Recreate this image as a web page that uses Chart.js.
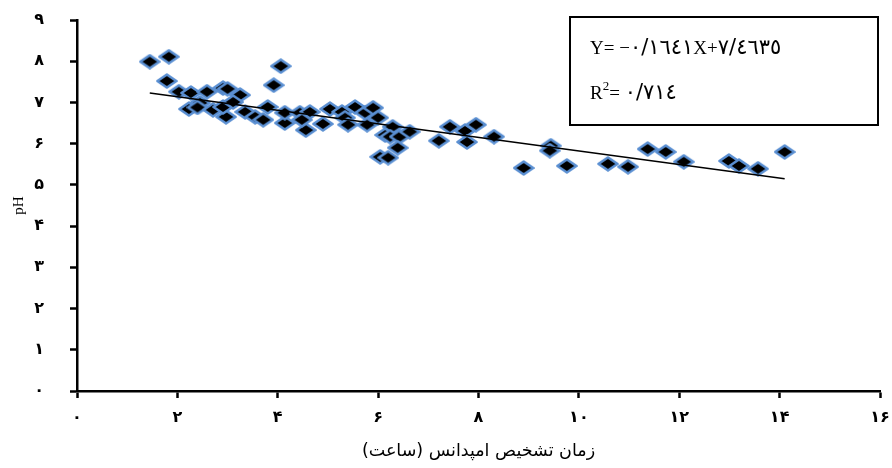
<!DOCTYPE html>
<html><head><meta charset="utf-8">
<script src="https://cdn.jsdelivr.net/npm/chart.js@4/dist/chart.umd.min.js"></script>
<style>html,body{margin:0;padding:0;background:#fff}</style>
</head><body>
<canvas id="c" width="892" height="468"></canvas>
<script>
// --- data ---
const timeHours = [1.45,1.83,1.79,2.03,2.27,2.23,2.45,2.59,2.40,2.71,2.91,3.00,2.97,2.91,3.25,3.11,3.35,3.55,3.80,3.71,3.92,4.06,4.14,4.14,4.44,4.64,4.56,4.48,4.90,5.04,5.28,5.34,5.40,5.54,5.74,5.78,5.90,6.00,6.29,6.14,6.24,6.43,6.63,6.39,6.04,6.20,7.21,7.43,7.73,7.77,7.95,8.31,8.90,9.44,9.42,9.76,10.58,10.98,11.37,11.73,12.09,12.99,13.19,13.57,14.10];
const phValues  = [7.99,8.11,7.52,7.26,7.23,6.84,6.99,7.26,6.88,6.82,7.35,7.33,6.65,6.89,7.18,7.01,6.77,6.65,6.89,6.58,7.42,7.88,6.50,6.75,6.75,6.77,6.33,6.58,6.48,6.84,6.77,6.63,6.46,6.89,6.75,6.46,6.87,6.63,6.41,6.21,6.17,6.17,6.29,5.90,5.68,5.66,6.07,6.41,6.31,6.04,6.46,6.17,5.41,5.95,5.83,5.46,5.51,5.44,5.87,5.80,5.56,5.58,5.46,5.39,5.80];
const trendX = [1.45, 14.1];
const trendY = [7.23, 5.15];
const xTickLabels = ['۰','۲','۴','۶','۸','۱۰','۱۲','۱۴','۱۶'];
const yTickLabels = ['۰','۱','۲','۳','۴','۵','۶','۷','۸','۹'];
const xTitle = 'زمان تشخیص امپدانس (ساعت)';
const yTitle = 'pH';
const eqParts = ['Y= −', '٠/١٦٤١', 'X+', '٧/٤٦٣٥'];
const r2Parts = ['R', '2', '= ', '٠/٧١٤'];

const points = timeHours.map((x, i) => ({x: x, y: phValues[i]}));
const trend = trendX.map((x, i) => ({x: x, y: trendY[i]}));

// diamond marker (wider than tall, as in the reference)
function makeDiamond() {
  const c = document.createElement('canvas');
  c.width = 22; c.height = 16;
  const g = c.getContext('2d');
  g.beginPath();
  g.moveTo(11, 1.5); g.lineTo(20.5, 8); g.lineTo(11, 14.5); g.lineTo(1.5, 8);
  g.closePath();
  g.fillStyle = '#000';
  g.fill();
  g.lineJoin = 'round';
  g.strokeStyle = '#5a8fd2';
  g.lineWidth = 2.6;
  g.stroke();
  return c;
}
const diamond = makeDiamond();

const SERIF = '19px "Liberation Serif"';
const ARAB = '21px "DejaVu Sans"';
const SUP = '13px "Liberation Serif"';

function drawRuns(ctx, runs, x, y) {
  for (const r of runs) {
    ctx.font = r.font;
    ctx.fillText(r.text, x, y + (r.dy || 0));
    x += ctx.measureText(r.text).width;
  }
}

const eqBox = {
  id: 'eqBox',
  afterDraw(chart) {
    const ctx = chart.ctx;
    ctx.save();
    ctx.strokeStyle = '#000';
    ctx.lineWidth = 2;
    ctx.strokeRect(570, 17, 308, 108);
    ctx.fillStyle = '#000';
    ctx.textBaseline = 'alphabetic';
    ctx.textAlign = 'left';
    ctx.direction = 'ltr';
    drawRuns(ctx, [
      {text: eqParts[0], font: SERIF},
      {text: eqParts[1], font: ARAB},
      {text: eqParts[2], font: SERIF},
      {text: eqParts[3], font: ARAB}
    ], 590, 54);
    drawRuns(ctx, [
      {text: r2Parts[0], font: SERIF},
      {text: r2Parts[1], font: SUP, dy: -9},
      {text: r2Parts[2], font: SERIF},
      {text: r2Parts[3], font: ARAB}
    ], 590, 99);
    ctx.restore();
  }
};

new Chart(document.getElementById('c'), {
  type: 'scatter',
  data: {
    datasets: [
      {
        type: 'line',
        data: trend,
        borderColor: '#000',
        borderWidth: 1.5,
        pointRadius: 0,
        fill: false,
        order: 0
      },
      {
        data: points,
        pointStyle: diamond,
        pointRadius: 9,
        order: 1
      }
    ]
  },
  options: {
    responsive: false,
    animation: false,
    layout: {padding: {top: 20, right: 12, left: 0, bottom: 0}},
    plugins: {legend: {display: false}, tooltip: {enabled: false}},
    scales: {
      x: {
        type: 'linear',
        min: 0, max: 16,
        afterFit(s) { s.height = 77; s.paddingLeft = 4; s.paddingRight = 8; },
        ticks: {
          stepSize: 2,
          padding: 10,
          color: '#000',
          font: {family: '"DejaVu Sans"', size: 16, weight: 'bold'},
          callback: (v) => xTickLabels[Math.round(v / 2)]
        },
        grid: {drawOnChartArea: false, drawTicks: true, tickLength: 7, tickWidth: 2.5, tickColor: '#000'},
        border: {color: '#000', width: 2.5},
        title: {
          display: true,
          text: xTitle,
          color: '#000',
          font: {family: '"DejaVu Sans"', size: 17.5},
          padding: {top: 0, bottom: 6}
        }
      },
      y: {
        type: 'linear',
        min: 0, max: 9,
        afterFit(s) { s.width = 77; s.paddingTop = 8; s.paddingBottom = 8; },
        ticks: {
          stepSize: 1,
          padding: 26,
          color: '#000',
          font: {family: '"DejaVu Sans"', size: 16, weight: 'bold'},
          callback: (v) => yTickLabels[Math.round(v)]
        },
        grid: {drawOnChartArea: false, drawTicks: true, tickLength: 7, tickWidth: 2.5, tickColor: '#000'},
        border: {color: '#000', width: 2.5},
        title: {
          display: true,
          text: yTitle,
          color: '#000',
          font: {family: '"Liberation Serif"', size: 15},
          padding: {top: 10, bottom: 0}
        }
      }
    }
  },
  plugins: [eqBox]
});
</script>
</body></html>
